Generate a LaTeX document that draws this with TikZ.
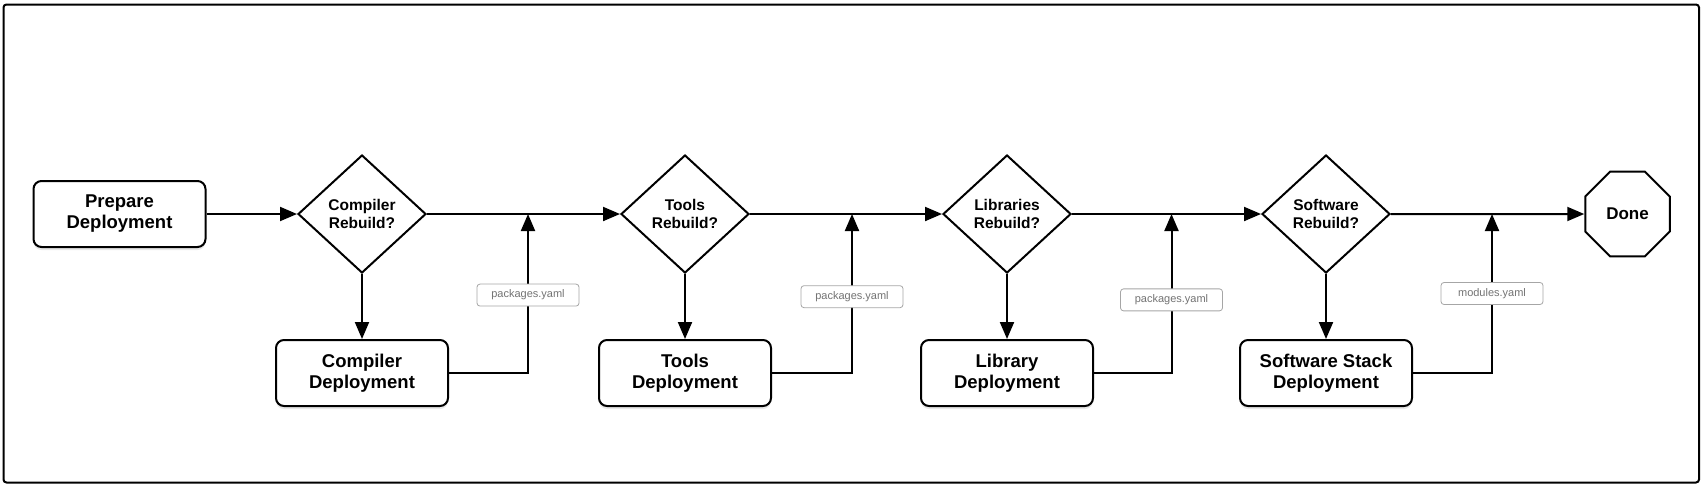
\documentclass[tikz,border=0pt]{standalone}
\usepackage{fontspec}
\setmainfont{Liberation Sans}
\usetikzlibrary{shapes.geometric,arrows.meta,shadows}
\begin{document}
\begin{tikzpicture}[x=1pt,y=-1pt,
  proc/.style={draw, line width=2pt, rounded corners=8pt, minimum width=172pt, minimum height=66pt, fill=white, align=center, font=\fontsize{18.5}{21}\selectfont\bfseries, drop shadow={shadow xshift=0pt, shadow yshift=-3pt, opacity=0.18}},
  dec/.style={draw, diamond, aspect=1, inner sep=0pt, line width=2pt, minimum width=128pt, minimum height=118pt, align=center, fill=white, font=\fontsize{15.5}{18}\selectfont\bfseries},
  endnode/.style={draw, regular polygon, regular polygon sides=8, minimum size=91.5pt, inner sep=0pt, line width=2pt, fill=white, font=\fontsize{17}{20}\selectfont\bfseries},
  flow/.style={line width=2pt, -{Triangle[length=17pt,width=14pt]}},
  lbl/.style={draw=black!35, line width=0.8pt, rounded corners=3pt, fill=white, text=black!55, font=\fontsize{11}{13}\selectfont, minimum width=102pt, minimum height=22pt, inner sep=0pt}
]
\useasboundingbox (0,0) rectangle (1704,488);
\draw[line width=2pt, rounded corners=3pt] (3.5,4.5) rectangle (1699,482.5);

\node[proc] (prep) at (119.5,214) {Prepare\\Deployment};
\node[dec] (d1) at (362,214) {Compiler\\Rebuild?};
\node[dec] (d2) at (685,214) {Tools\\Rebuild?};
\node[dec] (d3) at (1007,214) {Libraries\\Rebuild?};
\node[dec] (d4) at (1326,214) {Software\\Rebuild?};
\node[endnode] (done) at (1627.5,214) {Done};

\node[proc] (b1) at (362,373) {Compiler\\Deployment};
\node[proc] (b2) at (685,373) {Tools\\Deployment};
\node[proc] (b3) at (1007,373) {Library\\Deployment};
\node[proc] (b4) at (1326,373) {Software Stack\\Deployment};

\coordinate (j1) at (528,214);
\coordinate (j2) at (852,214);
\coordinate (j3) at (1171.5,214);
\coordinate (j4) at (1492,214);

\draw[flow] (prep) -- (d1);
\draw[flow] (d1) -- (d2);
\draw[flow] (d2) -- (d3);
\draw[flow] (d3) -- (d4);
\draw[flow] (d4) -- (done);

\draw[flow] (d1) -- (b1);
\draw[flow] (d2) -- (b2);
\draw[flow] (d3) -- (b3);
\draw[flow] (d4) -- (b4);

\draw[flow] (b1.east) -| node[lbl,pos=0.745] {packages.yaml} (j1);
\draw[flow] (b2.east) -| node[lbl,pos=0.74] {packages.yaml} (j2);
\draw[flow] (b3.east) -| node[lbl,pos=0.73] {packages.yaml} (j3);
\draw[flow] (b4.east) -| node[lbl,pos=0.75] {modules.yaml} (j4);
\end{tikzpicture}
\end{document}
